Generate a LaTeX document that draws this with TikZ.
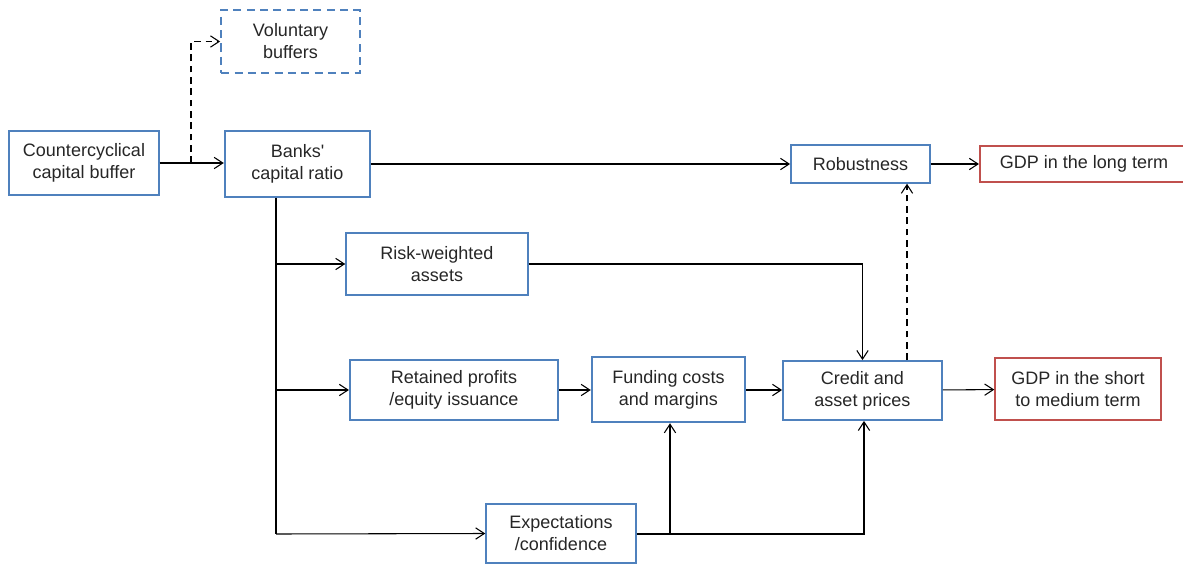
\documentclass[tikz,border=0pt]{standalone}
\usepackage{fontspec}
\setmainfont{Liberation Sans}
\usepackage{xcolor}
\usepackage{tikz}
\usetikzlibrary{positioning,calc,arrows.meta}

\definecolor{boxblue}{HTML}{4F81BD}
\definecolor{boxred}{HTML}{C0504D}
\definecolor{txtgray}{HTML}{262626}

\begin{document}
\begin{tikzpicture}[x=0.75pt, y=-0.75pt, >={Straight Barb[length=6.5pt,width=8.5pt]},
    every node/.style={font=\fontsize{13.5}{16.5}\selectfont, text=txtgray, align=center},
    box/.style={draw=boxblue, line width=1.6pt, inner sep=0pt},
    redbox/.style={draw=boxred, line width=1.6pt, inner sep=0pt},
    dashbox/.style={box, dash pattern=on 6pt off 4pt},
    link/.style={line width=0.8pt, black},
    dashlink/.style={link, dash pattern=on 5pt off 3.5pt}]
    % Frame
    \useasboundingbox (0,0) rectangle (1183,564);
    \clip (0,0) rectangle (1183,564);

    % Top row
    \node[dashbox, minimum width=104pt, minimum height=47pt] (vol) at (290.5,41.5) {Voluntary\\buffers};
    \node[box, minimum width=112pt, minimum height=48pt] (ccb) at (84,163) {Countercyclical\\capital buffer};
    \node[box, minimum width=109pt, minimum height=49pt] (bank) at (297.5,164) {Banks\textquotesingle\\capital ratio};
    \node[box, minimum width=104pt, minimum height=28pt] (rob) at (860.5,164) {Robustness};
    \node[redbox, minimum width=156pt, minimum height=27pt] (gdpl) at (1084,164) {GDP in the long term};

    % Middle and bottom rows
    \node[box, minimum width=136pt, minimum height=46pt] (rwa) at (437,264) {Risk-weighted\\assets};
    \node[box, minimum width=156pt, minimum height=45pt] (ret) at (454,390) {Retained profits\\/equity issuance};
    \node[box, minimum width=115pt, minimum height=49pt] (fund) at (668.5,389.5) {Funding costs\\and margins};
    \node[box, minimum width=119pt, minimum height=44pt] (cred) at (862.5,390.5) {Credit and\\asset prices};
    \node[redbox, minimum width=124pt, minimum height=46pt] (gdps) at (1078,389) {GDP in the short\\to medium term};
    \node[box, minimum width=112pt, minimum height=44pt] (expc) at (561,533.5) {Expectations\\/confidence};

    % Helper points
    \coordinate (split) at (191,163);
    \coordinate (trunk) at (276,534);
    \coordinate (fork) at (670,534);

    % Capital buffer links
    \draw[link, ->] (ccb.east |- split) -- (bank.west |- split);
    \draw[dashlink, ->] (split) |- (vol.west);
    \draw[link, ->] (bank.east) -- (rob.west);
    \draw[link, ->] (rob) -- (gdpl);

    % Trunk and branches
    \draw[link] (bank.south -| trunk) -- (trunk);
    \draw[link, ->] (trunk |- rwa) -- (rwa.west);
    \draw[link, ->] (trunk |- ret) -- (ret.west);
    \draw[link, ->] (trunk) -- (expc.west);

    % Transmission
    \draw[link, ->] (rwa.east) -| (cred.north);
    \draw[link, ->] (ret.east) -- (ret.east -| fund.west);
    \draw[link, ->] (fund.east |- ret) -- (cred.west |- ret);
    \draw[link, ->] (cred) -- (gdps);
    \draw[link, ->] (expc.east |- fork) -| ($(cred.south)+(1.5,0)$);
    \draw[link, ->] (fork) -- (fork |- fund.south);
    \draw[dashlink, ->] ($(cred.north)+(44.5,0)$) -- ($(rob.south)+(46.5,0)$);
\end{tikzpicture}
\end{document}
